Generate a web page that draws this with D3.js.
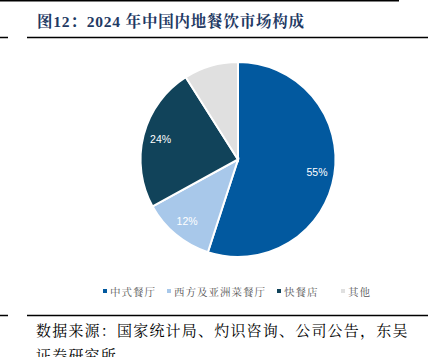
<!DOCTYPE html>
<html><head><meta charset="utf-8">
<script src="https://cdn.jsdelivr.net/npm/d3@7/dist/d3.min.js"></script>
<style>body{margin:0;background:#fff}svg{display:block}</style>
</head><body>
<svg id="c" width="438" height="357"></svg>
<script>
const categories = ["中式餐厅", "西方及亚洲菜餐厅", "快餐店", "其他"];
const values = [55, 12, 24, 9];
const labels = ["55%", "12%", "24%", ""];
const colors = ["#02599f", "#a8c8ea", "#11435a", "#e0e0e0"];

const svg = d3.select("#c");
const cx = 238, cy = 159.5, R = 97.5;

const line = (x1, x2, y, w) => svg.append("line").attr("x1", x1).attr("x2", x2).attr("y1", y).attr("y2", y).attr("stroke", "#000").attr("stroke-width", w);
line(0, 399, 0.8, 1.6);
line(0, 8, 37.5, 1.5);
line(27, 428, 37.5, 1.5);
line(0, 8, 315.5, 1.5);
line(27, 428, 315.5, 1.5);

svg.append("text").attr("x", 37).attr("y", 27)
  .attr("font-family", "'Liberation Serif','Noto Serif CJK SC','Noto Sans CJK SC',serif")
  .attr("font-weight", "bold").attr("font-size", 15.5).attr("fill", "#1f3a64")
  .attr("letter-spacing", 0.8)
  .text("图12：2024 年中国内地餐饮市场构成");

const data = categories.map((c, i) => ({c, v: values[i], l: labels[i], col: colors[i]}));
const pie = d3.pie().value(d => d.v).sort(null);
const arc = d3.arc().innerRadius(0).outerRadius(R);
const g = svg.append("g").attr("transform", `translate(${cx},${cy})`);
const arcs = pie(data);
g.selectAll("path").data(arcs).join("path")
  .attr("d", arc).attr("fill", d => d.data.col)
  .attr("stroke", "#fff").attr("stroke-width", 2);
const la = d3.arc().innerRadius(R * 0.82).outerRadius(R * 0.82);
g.selectAll("text").data(arcs).join("text")
  .attr("transform", d => `translate(${la.centroid(d)})`)
  .attr("text-anchor", "middle").attr("dy", "0.35em")
  .attr("font-family", "'Liberation Sans',Arial,sans-serif").attr("font-size", 10.5)
  .attr("fill", "#fff").text(d => d.data.l);

const lx = [103, 167, 277, 341];
const lg = svg.append("g");
data.forEach((d, i) => {
  lg.append("rect").attr("x", lx[i]).attr("y", 289).attr("width", 4).attr("height", 4).attr("fill", d.col);
  lg.append("text").attr("x", lx[i] + 7).attr("y", 295.5)
    .attr("font-family", "'Noto Serif CJK SC','Noto Sans CJK SC',serif").attr("font-size", 10.5)
    .attr("fill", "#555").attr("letter-spacing", 1).text(d.c);
});

const src = svg.append("g")
  .attr("font-family", "'Noto Serif CJK SC','Noto Sans CJK SC',serif").attr("font-size", 15)
  .attr("fill", "#000").attr("letter-spacing", 1.2);
src.append("text").attr("x", 36).attr("y", 336).text("数据来源：国家统计局、灼识咨询、公司公告，东吴");
src.append("text").attr("x", 36).attr("y", 361).text("证券研究所");
</script>
</body></html>
